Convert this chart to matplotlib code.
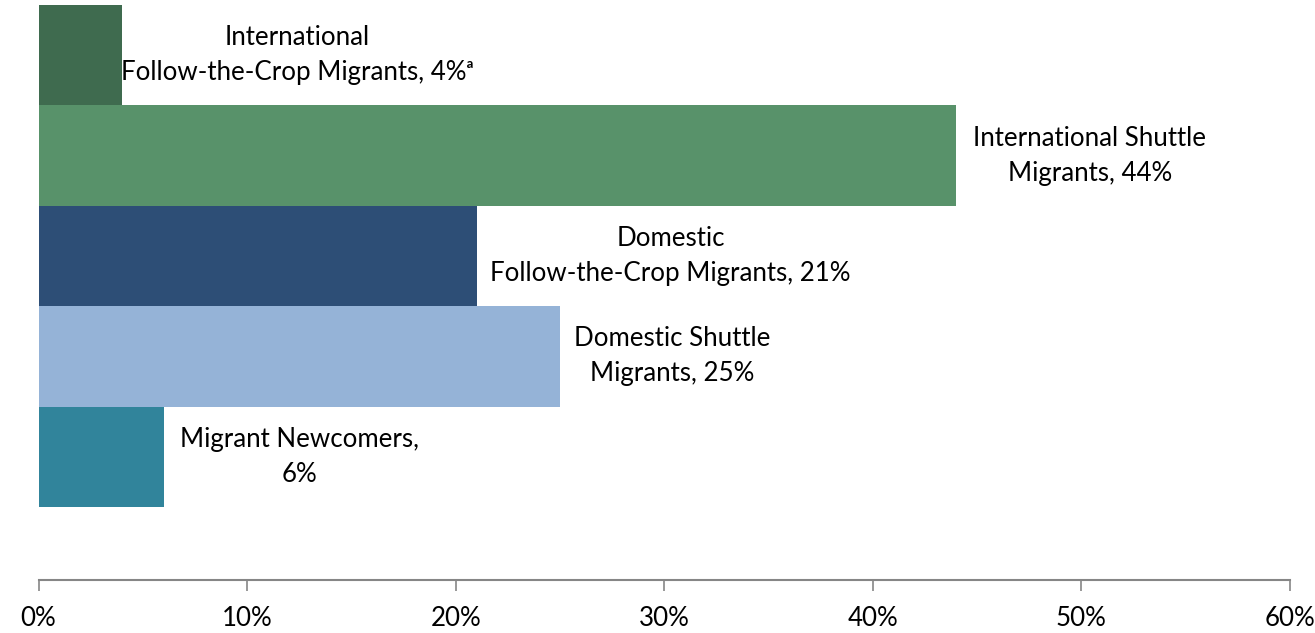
import matplotlib.pyplot as plt
from matplotlib.ticker import FuncFormatter

# data, top to bottom
labels = [
    "International\nFollow-the-Crop Migrants, 4%\u1d43",
    "International Shuttle\nMigrants, 44%",
    "Domestic\nFollow-the-Crop Migrants, 21%",
    "Domestic Shuttle\nMigrants, 25%",
    "Migrant Newcomers,\n6%",
]
shares = [4, 44, 21, 25, 6]
colors = ["#3F6B4F", "#58926A", "#2D4E76", "#95B3D7", "#31849B"]

# where the labels sit (x in %)
label_x = [12.4, 50.4, 30.3, 30.4, 12.5]

plt.rcParams["font.family"] = ["Lato", "DejaVu Sans"]

fig = plt.figure(figsize=(13.15, 6.33), dpi=100)
ax = fig.add_axes([0.0293, 0.0837, 0.9517, 0.9084])

ypos = list(range(len(shares) - 1, -1, -1))
ax.barh(ypos, shares, height=1.0, color=colors, edgecolor="none")

for y, lx, lab in zip(ypos, label_x, labels):
    ax.text(lx, y, lab, ha="center", va="center", fontsize=18.6,
            linespacing=1.5, color="#000000")

ax.set_xlim(0, 60)
ax.set_ylim(-1.227, 4.5)
ax.set_xticks(range(0, 61, 10))
ax.xaxis.set_major_formatter(FuncFormatter(lambda v, p: f"{v:.0f}%"))
ax.set_yticks([])

for s in ["top", "right", "left"]:
    ax.spines[s].set_visible(False)
ax.spines["bottom"].set_color("#868686")
ax.spines["bottom"].set_linewidth(1.5)
ax.tick_params(axis="x", direction="out", length=8, width=1.2,
               color="#868686", labelsize=18.6, pad=11)

fig.savefig("out.png", dpi=100)
